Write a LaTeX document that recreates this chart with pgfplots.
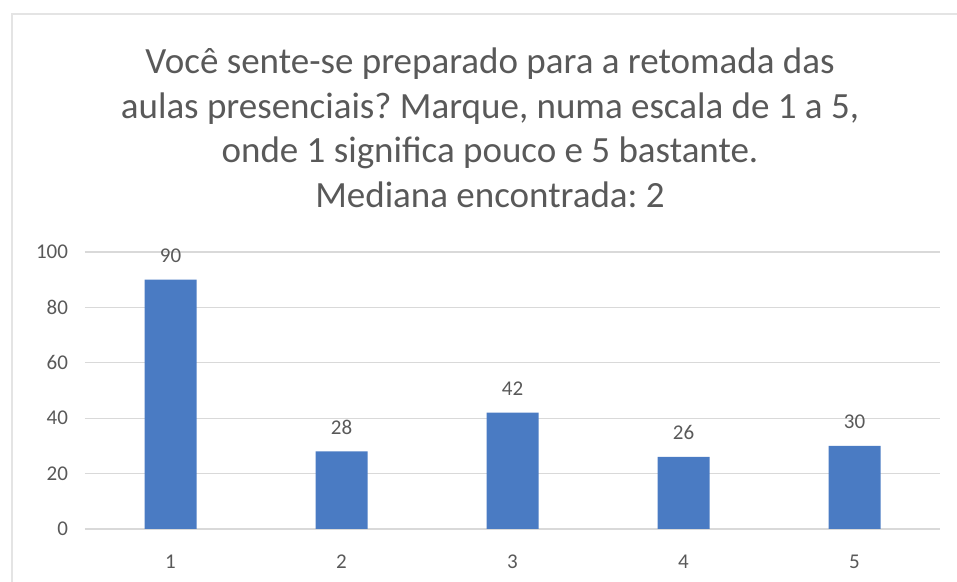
\documentclass[border=0pt]{standalone}
\usepackage{fontspec}
\setmainfont{Carlito}
\usepackage{pgfplots}
\pgfplotsset{compat=1.18}
\definecolor{barblue}{HTML}{4A7BC3}
\definecolor{txtgray}{HTML}{595959}
\definecolor{gridgray}{HTML}{D9D9D9}
\frenchspacing
\begin{document}
\begin{tikzpicture}
\path[use as bounding box] (-42.5pt,-26.5pt) rectangle (436pt,264.5pt);
\draw[gridgray!70, line width=0.8pt] (-36.5pt,-30pt) -- (-36.5pt,257.5pt) -- (440pt,257.5pt);
\begin{axis}[
  at={(0,0)}, anchor=south west,
  scale only axis, width=427.5pt, height=138.5pt,
  xmin=0.5, xmax=5.5, ymin=0, ymax=100,
  ybar, bar width=26pt,
  xtick={1,2,3,4,5}, ytick={0,20,40,60,80,100},
  axis line style={draw=none},
  tick style={draw=none},
  ymajorgrids, grid style={gridgray, line width=0.6pt},
  /pgf/number format/assume math mode=true,
  tick label style={font=\fontsize{10.5}{12}\selectfont, text=txtgray},
  yticklabel style={xshift=-5pt},
  xticklabel style={yshift=-5pt},
  nodes near coords,
  every node near coord/.append style={font=\fontsize{10.5}{12}\selectfont, text=txtgray, yshift=5pt},
  clip=false,
]
\addplot[fill=barblue, draw=none] coordinates {(1,90) (2,28) (3,42) (4,26) (5,30)};
\end{axis}
\node[align=center, text=txtgray, font=\fontsize{18.5}{22.3}\selectfont, anchor=north] at (202.5pt, 244pt)
  {Você sente-se preparado para a retomada das\\aulas presenciais? Marque, numa escala de 1 a 5,\\onde 1 significa pouco e 5 bastante.\\Mediana encontrada: 2};
\end{tikzpicture}
\end{document}
